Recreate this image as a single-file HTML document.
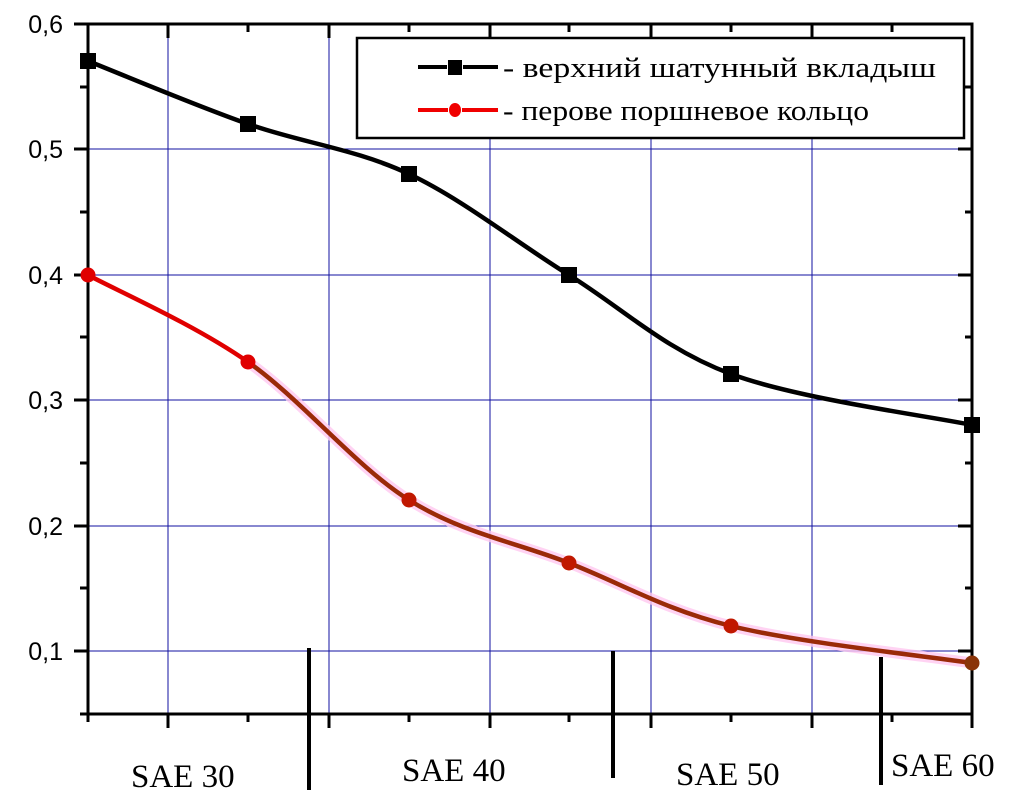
<!DOCTYPE html>
<html><head><meta charset="utf-8"><style>body{margin:0;background:#fff}svg{display:block}</style></head><body>
<svg width="1018" height="792" viewBox="0 0 1018 792" xmlns="http://www.w3.org/2000/svg">
<g stroke="#1010a0" stroke-width="1">
<line x1="168" y1="24" x2="168" y2="714"/><line x1="329" y1="24" x2="329" y2="714"/><line x1="490" y1="24" x2="490" y2="714"/><line x1="651" y1="24" x2="651" y2="714"/><line x1="812" y1="24" x2="812" y2="714"/>
<line x1="88" y1="149" x2="972" y2="149"/><line x1="88" y1="275" x2="972" y2="275"/><line x1="88" y1="400" x2="972" y2="400"/><line x1="88" y1="526" x2="972" y2="526"/><line x1="88" y1="651" x2="972" y2="651"/>
</g>
<g stroke="#000" stroke-width="3" fill="none">
<rect x="88" y="24" width="884" height="690"/>
<path d="M74 24H88M74 149H88M74 275H88M74 400H88M74 526H88M74 651H88M80 87H88M80 212H88M80 337H88M80 463H88M80 588H88M80 714H88"/>
<path d="M958 149H972M958 275H972M958 400H972M958 526H972M958 651H972M965 87H972M965 212H972M965 337H972M965 463H972M965 588H972"/>
<path d="M88 714V722M168 714V728M248 714V722M329 714V728M409 714V722M490 714V728M569 714V722M651 714V728M731 714V722M812 714V728M892 714V722M972 714V728"/>
<path d="M168 24V38M248 24V32M329 24V38M409 24V32M490 24V38M569 24V32M651 24V38M731 24V32M812 24V38M892 24V32"/>
<path d="M309 648V790M613 651V778M881 657V785" stroke-width="4"/>
</g>
<g font-family="Liberation Sans, sans-serif" font-size="25" text-anchor="end" fill="#000">
<text x="63" y="33">0,6</text><text x="63" y="158">0,5</text><text x="63" y="284">0,4</text><text x="63" y="409">0,3</text><text x="63" y="535">0,2</text><text x="63" y="660">0,1</text>
</g>
<g font-family="Liberation Serif, serif" font-size="33" fill="#000">
<text x="131" y="787">SAE 30</text><text x="402" y="781">SAE 40</text><text x="676" y="785">SAE 50</text><text x="891" y="776">SAE 60</text>
</g>
<path d="M248 362C301.5 399.5 355.5 466.5 409 500C462.5 533.5 515.3 542 569 563C622.7 584 663.8 609.3 731 626C798.2 642.7 931.8 656.8 972 663" fill="none" stroke="#ffc8f0" stroke-width="11" opacity="0.8"/>
<path d="M88 275C114.7 289.5 194.5 324.5 248 362" fill="none" stroke="#e00000" stroke-width="4.5"/>
<path d="M248 362C301.5 399.5 355.5 466.5 409 500C462.5 533.5 515.3 542 569 563C622.7 584 663.8 609.3 731 626C798.2 642.7 931.8 656.8 972 663" fill="none" stroke="#9a2a08" stroke-width="4.5"/>
<path d="M88 61C114.7 71.5 194.5 105.2 248 124C301.5 142.8 355.5 148.8 409 174C462.5 199.2 515.3 241.7 569 275C622.7 308.3 663.8 349 731 374C798.2 399 931.8 416.5 972 425" fill="none" stroke="#000" stroke-width="4.5"/>
<g fill="#000">
<rect x="80" y="53" width="16" height="16"/><rect x="240" y="116" width="16" height="16"/><rect x="401" y="166" width="16" height="16"/><rect x="561" y="267" width="16" height="16"/><rect x="723" y="366" width="16" height="16"/><rect x="964" y="417" width="16" height="16"/>
</g>
<circle cx="88" cy="275" r="7.5" fill="#e00000"/><circle cx="248" cy="362" r="7.5" fill="#e00000"/><circle cx="409" cy="500" r="7.5" fill="#c01800"/><circle cx="569" cy="563" r="7.5" fill="#c01800"/><circle cx="731" cy="626" r="7.5" fill="#c01800"/><circle cx="972" cy="663" r="7.5" fill="#8a3408"/>
<rect x="357" y="38" width="607" height="100" fill="#fff" stroke="#000" stroke-width="2.5"/>
<path d="M418 67H447M463 67H498" stroke-width="4" fill="none" stroke="#000"/>
<path d="M418 110H448M462 110H498" stroke-width="4" fill="none" stroke="#f00000"/>
<rect x="448" y="60" width="14" height="15" fill="#000"/>
<ellipse cx="455" cy="110" rx="6" ry="7" fill="#f00000"/>
<g font-family="Liberation Serif, serif" font-size="28" fill="#000">
<text x="503" y="77" textLength="433" lengthAdjust="spacingAndGlyphs">- верхний шатунный вкладыш</text>
<text x="503" y="120" textLength="366" lengthAdjust="spacingAndGlyphs">- перове поршневое кольцо</text>
</g>
</svg>
</body></html>
